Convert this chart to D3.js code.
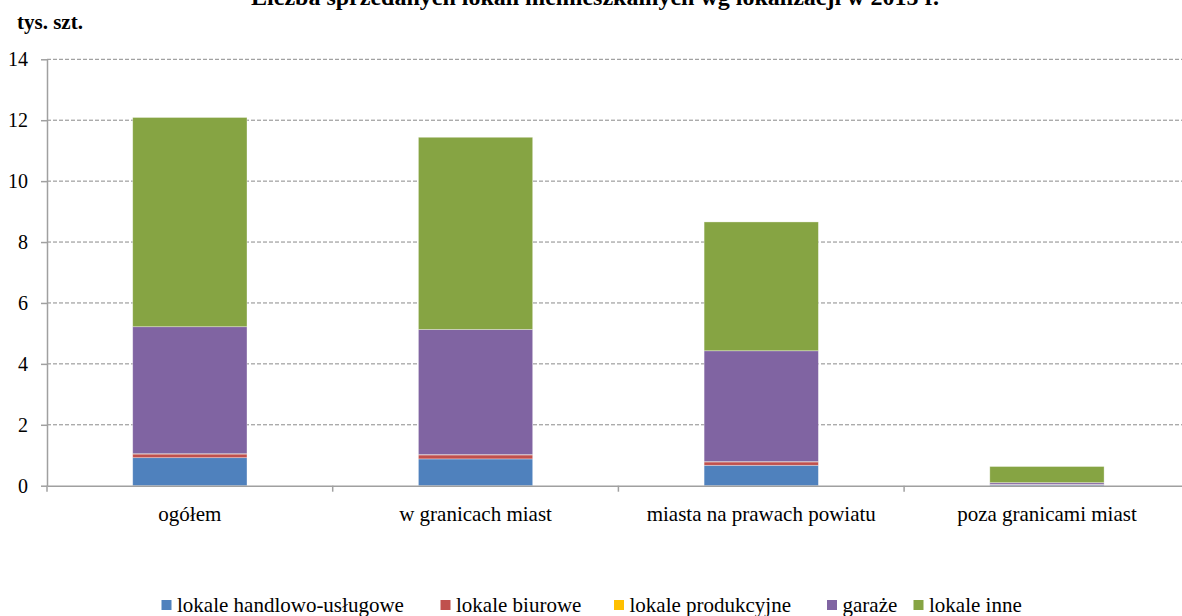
<!DOCTYPE html>
<html><head><meta charset="utf-8">
<script src="https://cdn.jsdelivr.net/npm/d3@7"></script>
<style>
body{margin:0;background:#fff;}
svg{display:block;font-family:"Liberation Serif","Times New Roman",serif;}
</style></head>
<body>
<svg id="chart" width="1182" height="616"></svg>
<script>
const categories = ["ogółem", "w granicach miast", "miasta na prawach powiatu", "poza granicami miast"];
const seriesNames = ["lokale handlowo-usługowe", "lokale biurowe", "lokale produkcyjne", "garaże", "lokale inne"];
const handlowo = [0.92, 0.88, 0.67, 0.04];
const biurowe = [0.12, 0.13, 0.11, 0.01];
const produkcyjne = [0.01, 0.01, 0.01, 0.00];
const garaze = [4.17, 4.11, 3.64, 0.05];
const inne = [6.87, 6.31, 4.23, 0.53];
const yTicks = [0, 2, 4, 6, 8, 10, 12, 14];
const colors = ["#4F81BD", "#C0504D", "#FFC000", "#8064A2", "#86A443"];
const title = "Liczba sprzedanych lokali niemieszkalnych wg lokalizacji w 2015 r.";
const unitLabel = "tys. szt.";

const FONT = "Liberation Serif, Times New Roman, serif";
const svg = d3.select("#chart").attr("font-family", FONT);
const plotLeft = 47, plotBottom = 485.7, plotTop = 59.3;
const step = 285.7;
const x = d3.scaleBand().domain(categories).range([plotLeft, plotLeft + step * categories.length]).padding(0);
const y = d3.scaleLinear().domain([0, 14]).range([plotBottom, plotTop]);

// gridlines
svg.append("g").selectAll("line").data(yTicks.filter(d => d > 0)).join("line")
  .attr("x1", plotLeft).attr("x2", 1182)
  .attr("y1", d => y(d)).attr("y2", d => y(d))
  .attr("stroke", "#8a8a8a").attr("stroke-width", 1).attr("stroke-dasharray", "4,2");

// stacked data
const rows = categories.map((c, i) => ({cat: c, s0: handlowo[i], s1: biurowe[i], s2: produkcyjne[i], s3: garaze[i], s4: inne[i]}));
const stack = d3.stack().keys(["s0", "s1", "s2", "s3", "s4"]);
const stacked = stack(rows);
const bw = x.bandwidth() * 0.4;

svg.append("g").selectAll("g").data(stacked).join("g")
  .attr("fill", (d, i) => colors[i])
  .selectAll("rect").data(d => d).join("rect")
  .attr("x", d => x(d.data.cat) + (x.bandwidth() - bw) / 2)
  .attr("width", bw)
  .attr("y", d => y(d[1]))
  .attr("height", d => Math.max(0, y(d[0]) - y(d[1])))
  .attr("stroke", "rgba(255,255,255,0.45)").attr("stroke-width", 0.75);

// y axis
const yAxis = d3.axisLeft(y).tickValues(yTicks).tickSize(6).tickSizeOuter(0).tickPadding(13).tickFormat(d3.format("d"));
const gy = svg.append("g").attr("transform", `translate(${plotLeft},0)`).call(yAxis);
gy.attr("font-family", FONT);
gy.select(".domain").attr("stroke", "#a0a0a0").attr("stroke-width", 1.5);
gy.selectAll(".tick line").attr("stroke", "#a0a0a0").attr("stroke-width", 1.5);
gy.selectAll(".tick text").attr("font-size", 20).attr("fill", "#000");

// x axis
const xAxis = d3.axisBottom(x).tickSize(0).tickPadding(20).tickSizeOuter(0);
const gx = svg.append("g").attr("transform", `translate(0,${plotBottom})`).call(xAxis);
gx.attr("font-family", FONT);
gx.select(".domain").attr("stroke", "#a0a0a0").attr("stroke-width", 1.5);
gx.selectAll(".tick text").attr("font-size", 21).attr("fill", "#000").attr("dy", "0.71em");
// category separator ticks
gx.append("g").selectAll("line").data(categories).join("line")
  .attr("x1", d => x(d)).attr("x2", d => x(d))
  .attr("y1", 0).attr("y2", 6)
  .attr("stroke", "#a0a0a0").attr("stroke-width", 1.5);

// title
svg.append("text").attr("x", 595).attr("y", 5).attr("text-anchor", "middle")
  .attr("font-size", 24).attr("font-weight", "bold").text(title);
svg.append("text").attr("x", 17).attr("y", 29)
  .attr("font-size", 21).attr("font-weight", "bold").text(unitLabel);

// legend
const legendX = [161.5, 440.5, 614, 827, 913.5];
const lg = svg.append("g").selectAll("g").data(seriesNames).join("g")
  .attr("transform", (d, i) => `translate(${legendX[i]},600)`);
lg.append("rect").attr("width", 10).attr("height", 10).attr("fill", (d, i) => colors[i]);
lg.append("text").attr("x", 15.5).attr("y", 11.5).attr("font-size", 21).text(d => d);
</script>
</body></html>
